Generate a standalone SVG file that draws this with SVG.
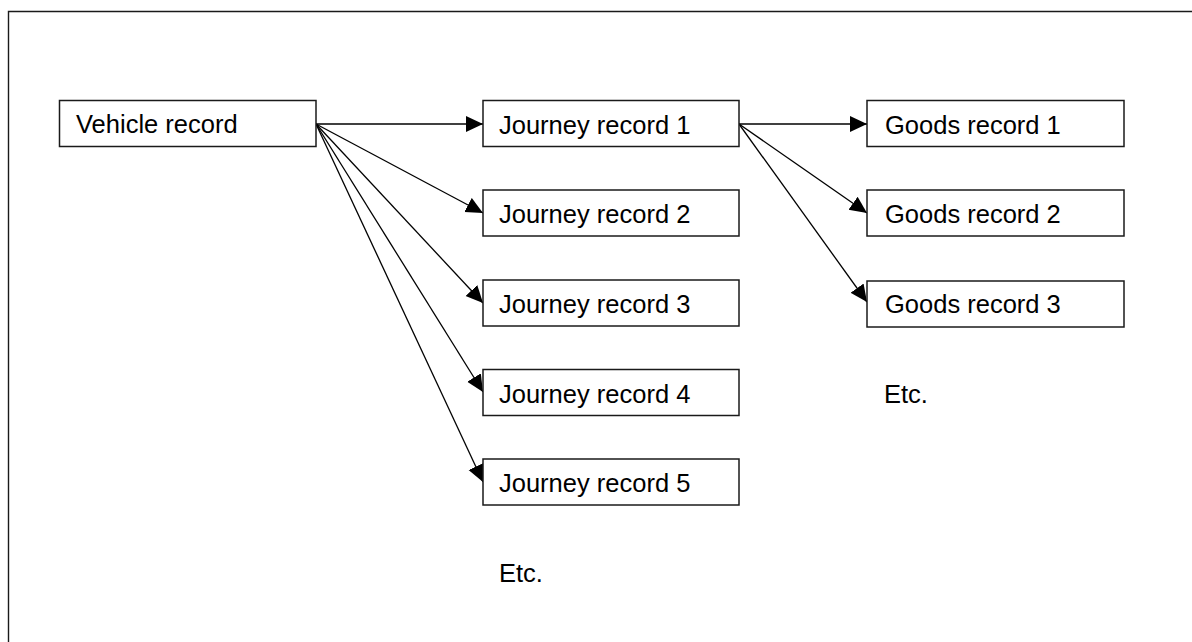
<svg xmlns="http://www.w3.org/2000/svg" width="1192" height="642" viewBox="0 0 1192 642">
<style>
.box{fill:#fff;stroke:#1a1a1a;stroke-width:1.5}
.lbl{font-family:"Liberation Sans",Arial,sans-serif;font-size:25.5px;fill:#000}
.con{stroke:#000;stroke-width:1.3;fill:none;marker-end:url(#ah)}
</style>
<defs>
<marker id="ah" markerUnits="userSpaceOnUse" markerWidth="18" markerHeight="17" refX="17" refY="8" orient="auto">
<path d="M0,0 L17,8 L0,16 Z" fill="#000"/>
</marker>
</defs>
<rect width="1192" height="642" fill="#fff"/>
<path d="M8.5,650 L8.5,11.5 L1200,11.5" fill="none" stroke="#1a1a1a" stroke-width="1.4"/>
<g id="connectors">
<line class="con" x1="316" y1="124" x2="483" y2="124"/>
<line class="con" x1="316" y1="124" x2="483" y2="213"/>
<line class="con" x1="316" y1="124" x2="483" y2="303"/>
<line class="con" x1="316" y1="124" x2="483" y2="392"/>
<line class="con" x1="316" y1="124" x2="483" y2="482"/>
<line class="con" x1="739" y1="124" x2="867" y2="124"/>
<line class="con" x1="739" y1="124" x2="867" y2="213"/>
<line class="con" x1="739" y1="124" x2="867" y2="302"/>
</g>
<g id="vehicle"><rect class="box" x="59.5" y="100.5" width="256.5" height="46"/><text class="lbl" x="76" y="133">Vehicle record</text></g>
<g id="journey1"><rect class="box" x="483" y="100.5" width="256" height="46"/><text class="lbl" x="499" y="134">Journey record 1</text></g>
<g id="journey2"><rect class="box" x="483" y="190" width="256" height="46"/><text class="lbl" x="499" y="223">Journey record 2</text></g>
<g id="journey3"><rect class="box" x="483" y="280" width="256" height="46"/><text class="lbl" x="499" y="313">Journey record 3</text></g>
<g id="journey4"><rect class="box" x="483" y="369.5" width="256" height="46"/><text class="lbl" x="499" y="403">Journey record 4</text></g>
<g id="journey5"><rect class="box" x="483" y="459" width="256" height="46"/><text class="lbl" x="499" y="492">Journey record 5</text></g>
<g id="goods1"><rect class="box" x="867" y="100.5" width="257" height="46"/><text class="lbl" x="885" y="134">Goods record 1</text></g>
<g id="goods2"><rect class="box" x="867" y="190" width="257" height="46"/><text class="lbl" x="885" y="223">Goods record 2</text></g>
<g id="goods3"><rect class="box" x="867" y="281" width="257" height="46"/><text class="lbl" x="885" y="313">Goods record 3</text></g>
<g id="etc1"><text class="lbl" x="499" y="582">Etc.</text></g>
<g id="etc2"><text class="lbl" x="884" y="403">Etc.</text></g>
</svg>
